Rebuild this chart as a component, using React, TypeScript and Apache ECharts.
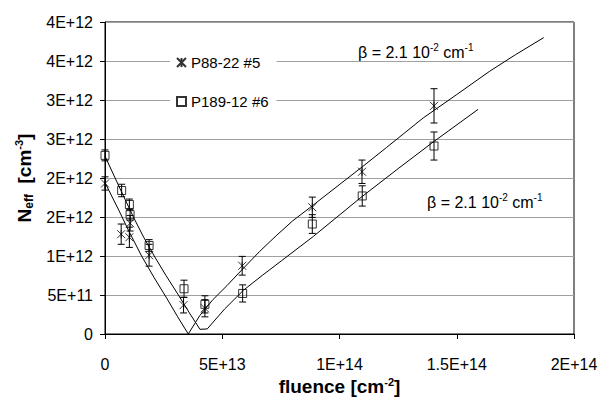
import React, { useEffect, useRef } from 'react';
import * as echarts from 'echarts';

// measured points, sample P88-22 #5 (star markers)
const crossX = [0, 6.9e12, 1.04e13, 1.07e13, 1.88e13, 3.35e13, 4.26e13, 5.85e13, 8.84e13, 1.096e14, 1.403e14];
const crossY = [1.93e12, 1.28e12, 1.24e12, 1.42e12, 1.01e12, 0.37e12, 0.33e12, 0.875e12, 1.625e12, 2.08e12, 2.925e12];
const crossErr = [0.085e12, 0.13e12, 0.13e12, 0.1e12, 0.14e12, 0.1e12, 0.11e12, 0.12e12, 0.13e12, 0.15e12, 0.22e12];

// measured points, sample P189-12 #6 (square markers)
const squareX = [0, 7.1e12, 1.04e13, 1.07e13, 1.88e13, 3.37e13, 4.26e13, 5.87e13, 8.84e13, 1.097e14, 1.403e14];
const squareY = [2.29e12, 1.84e12, 1.66e12, 1.53e12, 1.135e12, 0.58e12, 0.38e12, 0.52e12, 1.41e12, 1.77e12, 2.41e12];
const squareErr = [0.07e12, 0.08e12, 0.07e12, 0.07e12, 0.075e12, 0.11e12, 0.11e12, 0.11e12, 0.12e12, 0.13e12, 0.18e12];

// fit curves
const fitCrossX = [0, 0.6e13, 1.0e13, 1.56e13, 2.1e13, 2.63e13, 3.1e13, 3.55e13, 4.05e13, 4.6e13, 5.2e13, 5.75e13, 6.6e13, 7.3e13, 8.0e13, 8.74e13, 1.0017e14, 1.1e14, 1.2e14, 1.357e14, 1.5e14, 1.641e14, 1.75e14, 1.871e14];
const fitCrossY = [1.94e12, 1.58e12, 1.33e12, 1.0e12, 0.72e12, 0.46e12, 0.22e12, 0.0, 0.24e12, 0.44e12, 0.62e12, 0.795e12, 1.06e12, 1.26e12, 1.45e12, 1.62e12, 1.92e12, 2.15e12, 2.39e12, 2.77e12, 3.07e12, 3.37e12, 3.58e12, 3.8e12];
const fitSquareX = [0, 0.6e13, 1.21e13, 1.65e13, 2.1e13, 2.6e13, 3.13e13, 3.6e13, 4.05e13, 4.36e13, 5.1e13, 5.9e13, 6.7e13, 7.53e13, 8.88e13, 1.0017e14, 1.087e14, 1.25e14, 1.399e14, 1.591e14];
const fitSquareY = [2.28e12, 1.89e12, 1.5e12, 1.24e12, 1.0e12, 0.75e12, 0.5e12, 0.27e12, 0.06e12, 0.065e12, 0.32e12, 0.56e12, 0.75e12, 0.94e12, 1.25e12, 1.53e12, 1.74e12, 2.12e12, 2.46e12, 2.88e12];

const yTickLabels = ['0', '5E+11', '1E+12', '2E+12', '2E+12', '3E+12', '3E+12', '4E+12', '4E+12'];
const xTickLabels = ['0', '5E+13', '1E+14', '1.5E+14', '2E+14'];
const seriesNames = ['P88-22 #5', 'P189-12 #6'];

const FONT = "'Liberation Sans', Arial, sans-serif";
const STAR = 'path://M0,0L10,10M10,0L0,10M5,0L5,10';

function errorSeries(xs: number[], ys: number[], es: number[]) {
  return {
    type: 'custom',
    silent: true,
    z: 3,
    data: xs.map((x, i) => [x, ys[i], es[i]]),
    renderItem: (params: any, api: any) => {
      const x = api.value(0);
      const y = api.value(1);
      const e = api.value(2);
      const top = api.coord([x, y + e]);
      const bot = api.coord([x, y - e]);
      const w = 3.5;
      const st = { stroke: '#000', lineWidth: 1 };
      return {
        type: 'group',
        children: [
          { type: 'line', shape: { x1: top[0], y1: top[1], x2: bot[0], y2: bot[1] }, style: st },
          { type: 'line', shape: { x1: top[0] - w, y1: top[1], x2: top[0] + w, y2: top[1] }, style: st },
          { type: 'line', shape: { x1: bot[0] - w, y1: bot[1], x2: bot[0] + w, y2: bot[1] }, style: st },
        ],
      };
    },
  };
}

export default function App() {
  const ref = useRef<HTMLDivElement>(null);
  useEffect(() => {
    if (!ref.current) return;
    const chart = echarts.init(ref.current, null, { renderer: 'svg' });
    const betaRich = {
      t: { fontSize: 16, fontFamily: FONT, fill: '#000', lineHeight: 20 },
      s: { fontSize: 10, fontFamily: FONT, fill: '#000', verticalAlign: 'top', lineHeight: 20 },
    };
    chart.setOption({
      animation: false,
      backgroundColor: '#fff',
      textStyle: { fontFamily: FONT, color: '#000' },
      grid: {
        left: 105, right: 29, top: 22, bottom: 65,
        outerBoundsMode: 'none',
        containLabel: false,
        show: true, borderColor: '#000', borderWidth: 1,
      },
      legend: {
        data: seriesNames,
        orient: 'vertical',
        left: 170,
        top: 50,
        itemGap: 24,
        itemWidth: 9,
        itemHeight: 9,
        padding: [5, 8, 5, 6],
        backgroundColor: '#fff',
        textStyle: { fontSize: 15, fontFamily: FONT, color: '#000' },
      },
      xAxis: {
        type: 'value',
        min: 0,
        max: 2e14,
        interval: 5e13,
        splitLine: { show: false },
        axisLine: { lineStyle: { color: '#000', width: 1 } },
        axisTick: { show: true, inside: false, length: 5, lineStyle: { color: '#000' } },
        axisLabel: {
          margin: 22,
          fontSize: 16,
          fontFamily: FONT,
          color: '#000',
          formatter: (v: number) => xTickLabels[Math.round(v / 5e13)] ?? '',
        },
        name: '{t|fluence [cm}{s|-2}{t|]}',
        nameLocation: 'middle',
        nameGap: 38,
        nameTextStyle: {
          rich: {
            t: { fontSize: 19, fontWeight: 'bold', fontFamily: FONT, color: '#000', lineHeight: 19 },
            s: { fontSize: 11, fontWeight: 'bold', fontFamily: FONT, color: '#000', verticalAlign: 'top', lineHeight: 19 },
          },
        },
      },
      yAxis: {
        type: 'value',
        min: 0,
        max: 4e12,
        interval: 5e11,
        splitLine: { show: true, lineStyle: { color: '#a0a0a0', width: 1 } },
        axisLine: { show: true, lineStyle: { color: '#000', width: 1 } },
        axisTick: { show: true, inside: false, length: 5, lineStyle: { color: '#000' } },
        axisLabel: {
          margin: 12,
          fontSize: 16,
          fontFamily: FONT,
          color: '#000',
          formatter: (v: number) => yTickLabels[Math.round(v / 5e11)] ?? '',
        },
        name: '{t|N}{b|eff}{t|  [cm}{s|-3}{t|]}',
        nameLocation: 'middle',
        nameRotate: 90,
        nameGap: 68,
        nameTextStyle: {
          rich: {
            t: { fontSize: 19, fontWeight: 'bold', fontFamily: FONT, color: '#000', lineHeight: 22 },
            b: { fontSize: 12, fontWeight: 'bold', fontFamily: FONT, color: '#000', verticalAlign: 'bottom', lineHeight: 22 },
            s: { fontSize: 11, fontWeight: 'bold', fontFamily: FONT, color: '#000', verticalAlign: 'top', lineHeight: 22 },
          },
        },
      },
      graphic: [
        {
          type: 'text',
          left: 358,
          top: 42,
          z: 10,
          style: { text: '{t|β = 2.1 10}{s|-2}{t| cm}{s|-1}', rich: betaRich },
        },
        {
          type: 'text',
          left: 427,
          top: 192,
          z: 10,
          style: { text: '{t|β = 2.1 10}{s|-2}{t| cm}{s|-1}', rich: betaRich },
        },
      ],
      series: [
        {
          name: seriesNames[0],
          type: 'scatter',
          symbol: STAR,
          symbolSize: 8,
          z: 4,
          itemStyle: { color: 'transparent', borderColor: '#000', borderWidth: 1 },
          data: crossX.map((x, i) => [x, crossY[i]]),
        },
        {
          name: seriesNames[1],
          type: 'scatter',
          symbol: 'rect',
          symbolSize: 8,
          z: 4,
          itemStyle: { color: 'transparent', borderColor: '#000', borderWidth: 1 },
          data: squareX.map((x, i) => [x, squareY[i]]),
        },
        {
          name: 'fit1',
          type: 'line',
          symbol: 'none',
          silent: true,
          lineStyle: { color: '#000', width: 1 },
          data: fitCrossX.map((x, i) => [x, fitCrossY[i]]),
        },
        {
          name: 'fit2',
          type: 'line',
          symbol: 'none',
          silent: true,
          lineStyle: { color: '#000', width: 1 },
          data: fitSquareX.map((x, i) => [x, fitSquareY[i]]),
        },
        errorSeries(crossX, crossY, crossErr),
        errorSeries(squareX, squareY, squareErr),
      ],
    });
    return () => chart.dispose();
  }, []);
  return <div ref={ref} style={{ position: 'absolute', left: 0, top: 0, width: 603, height: 399 }} />;
}
